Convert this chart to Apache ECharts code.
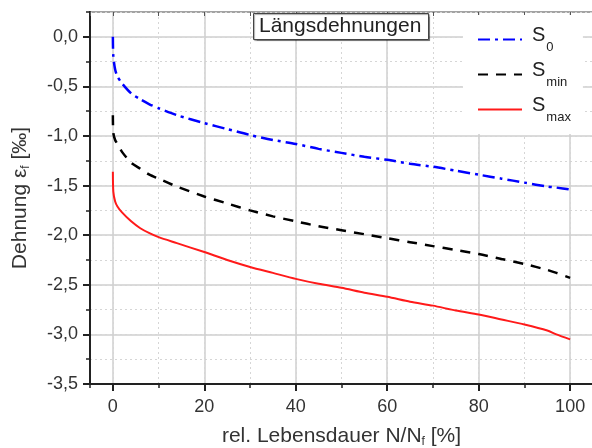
<!DOCTYPE html>
<html lang="de">
<head>
<meta charset="UTF-8">
<title>Längsdehnungen</title>
<script src="https://cdn.jsdelivr.net/npm/echarts@6/dist/echarts.min.js"></script>
<style>
    html, body { margin: 0; padding: 0; background: #fff; }
    #chart { width: 592px; height: 448px; }
</style>
</head>
<body>
<div id="chart"></div>
<script>
// relative Lebensdauer N/Nf [%]
var lifeX = [0, 0.1, 0.5, 1, 2, 4, 6, 8, 10, 14, 20, 25, 30, 35, 40, 45, 50, 55, 60, 65, 70, 75, 80, 85, 90, 95, 97, 100];
// Dehnung [‰]
var strainS0   = [0, -0.20, -0.33, -0.40, -0.47, -0.57, -0.63, -0.68, -0.72, -0.79, -0.87, -0.93, -0.99, -1.04, -1.08, -1.13, -1.17, -1.21, -1.24, -1.28, -1.31, -1.35, -1.39, -1.43, -1.47, -1.51, -1.52, -1.54];
var strainSmin = [-0.79, -0.97, -1.04, -1.08, -1.16, -1.27, -1.33, -1.39, -1.43, -1.51, -1.61, -1.68, -1.75, -1.81, -1.86, -1.91, -1.95, -1.99, -2.03, -2.07, -2.11, -2.15, -2.19, -2.24, -2.29, -2.35, -2.38, -2.43];
var strainSmax = [-1.36, -1.56, -1.66, -1.71, -1.77, -1.86, -1.93, -1.98, -2.02, -2.08, -2.17, -2.25, -2.32, -2.38, -2.44, -2.49, -2.53, -2.58, -2.62, -2.67, -2.71, -2.76, -2.80, -2.85, -2.90, -2.96, -3.00, -3.05];

var seriesNames = ['S0', 'Smin', 'Smax'];
var seriesSubs = ['0', 'min', 'max'];

var FONT = 'Liberation Sans, Arial, sans-serif';

function pairs(ys) {
    return lifeX.map(function (x, i) { return [x, ys[i]]; });
}

var chart = echarts.init(document.getElementById('chart'), null, { renderer: 'canvas' });

var option = {
    animation: false,
    backgroundColor: '#fff',
    textStyle: { fontFamily: FONT },
    title: {
        text: 'Längsdehnungen',
        left: 253,
        top: 13,
        padding: [3, 7, 3, 6],
        backgroundColor: '#fff',
        borderColor: '#444',
        borderWidth: 1,
        shadowColor: 'rgba(0,0,0,0.35)',
        shadowOffsetX: 1,
        shadowOffsetY: 1,
        shadowBlur: 1,
        textStyle: { fontFamily: FONT, fontSize: 21, fontWeight: 'normal', color: '#222' }
    },
    legend: {
        orient: 'vertical',
        left: 463,
        top: 15,
        padding: [10, 12, 10, 14],
        itemGap: 6,
        itemWidth: 44,
        itemHeight: 14,
        backgroundColor: '#fff',
        itemStyle: { opacity: 0 },
        data: seriesNames,
        formatter: function (name) {
            return '{s|S}{sub|' + seriesSubs[seriesNames.indexOf(name)] + '}';
        },
        textStyle: {
            fontFamily: FONT,
            color: '#222',
            rich: {
                s: { fontFamily: FONT, fontSize: 20, color: '#222', lineHeight: 22, verticalAlign: 'top', padding: [0, 0, 0, 5] },
                sub: { fontFamily: FONT, fontSize: 13, color: '#222', verticalAlign: 'bottom', padding: [16, 0, 0, 1] }
            }
        }
    },
    grid: {
        left: 90,
        right: -1,
        top: 12,
        bottom: 64,
        outerBoundsMode: 'none',
        show: true,
        borderColor: '#222',
        borderWidth: 2,
        backgroundColor: 'transparent'
    },
    xAxis: [
        {
            type: 'value',
            position: 'bottom',
            min: -5,
            max: 105,
            splitNumber: 5,
            name: 'rel. Lebensdauer N/N{sub|f} [%]',
            nameLocation: 'middle',
            nameGap: 40,
            nameTextStyle: {
                fontFamily: FONT, fontSize: 21, color: '#333',
                rich: { sub: { fontFamily: FONT, fontSize: 12, color: '#333', verticalAlign: 'bottom', padding: [12, 0, 0, 0] } }
            },
            axisLine: { show: true, onZero: false, lineStyle: { color: '#222', width: 2 } },
            axisTick: { show: true, inside: false, length: 7, lineStyle: { color: '#222', width: 2 } },
            axisLabel: { fontFamily: FONT, fontSize: 18, color: '#333', margin: 14, showMinLabel: false, showMaxLabel: false },
            splitLine: { show: true, lineStyle: { color: '#cfcfcf', width: 1.5 } }
        },
        {
            // minor ticks + dotted grid
            type: 'value',
            position: 'bottom',
            min: -5,
            max: 105,
            splitNumber: 11,
            axisLine: { show: false, onZero: false },
            axisTick: { show: true, inside: false, length: 4, lineStyle: { color: '#222', width: 1.5 } },
            axisLabel: { show: false },
            splitLine: { show: true, lineStyle: { color: '#d6d6d6', width: 1, type: [2, 3] } }
        },
        {
            // top frame ticks
            type: 'value',
            position: 'top',
            min: -5,
            max: 105,
            splitNumber: 11,
            axisLine: { show: false, onZero: false },
            axisTick: { show: true, inside: true, length: 4, lineStyle: { color: '#555', width: 1 } },
            axisLabel: { show: false },
            splitLine: { show: false }
        }
    ],
    yAxis: [
        {
            type: 'value',
            position: 'left',
            min: -3.5,
            max: 0.25,
            interval: 0.5,
            name: 'Dehnung ε{sub|f} [‰]',
            nameLocation: 'middle',
            nameGap: 58,
            nameTextStyle: {
                fontFamily: FONT, fontSize: 21, color: '#333',
                rich: { sub: { fontFamily: FONT, fontSize: 12, color: '#333', verticalAlign: 'bottom', padding: [12, 0, 0, 0] } }
            },
            axisLine: { show: true, onZero: false, lineStyle: { color: '#222', width: 2 } },
            axisTick: { show: true, inside: false, length: 7, lineStyle: { color: '#222', width: 2 } },
            axisLabel: {
                fontFamily: FONT, fontSize: 18, color: '#333', margin: 12, showMaxLabel: false,
                formatter: function (v) { return v.toFixed(1).replace('.', ','); }
            },
            splitLine: { show: true, lineStyle: { color: '#cfcfcf', width: 1.5 } }
        },
        {
            type: 'value',
            position: 'left',
            min: -3.5,
            max: 0.25,
            interval: 0.25,
            axisLine: { show: false, onZero: false },
            axisTick: { show: true, inside: false, length: 4, lineStyle: { color: '#222', width: 1.5 } },
            axisLabel: { show: false },
            splitLine: { show: true, lineStyle: { color: '#d6d6d6', width: 1, type: [2, 3] } }
        }
    ],
    series: [
        {
            name: 'S0',
            type: 'line',
            xAxisIndex: 0,
            yAxisIndex: 0,
            symbol: 'none',
            smooth: 0.25,
            data: pairs(strainS0),
            lineStyle: { color: '#0000ff', width: 2.5, type: [12, 5, 3, 5] },
            itemStyle: { color: '#0000ff' }
        },
        {
            name: 'Smin',
            type: 'line',
            xAxisIndex: 0,
            yAxisIndex: 0,
            symbol: 'none',
            smooth: 0.25,
            data: pairs(strainSmin),
            lineStyle: { color: '#000', width: 2.5, type: [10, 8] },
            itemStyle: { color: '#000' }
        },
        {
            name: 'Smax',
            type: 'line',
            xAxisIndex: 0,
            yAxisIndex: 0,
            symbol: 'none',
            smooth: 0.25,
            data: pairs(strainSmax),
            lineStyle: { color: '#ff1a1a', width: 2 },
            itemStyle: { color: '#ff1a1a' }
        }
    ]
};

chart.setOption(option);
</script>
</body>
</html>
